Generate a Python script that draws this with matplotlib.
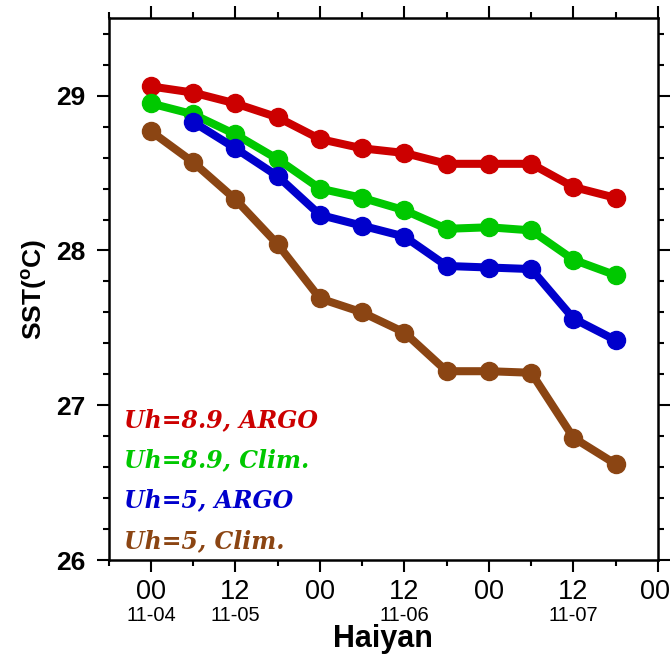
import matplotlib
matplotlib.use("Agg")
import matplotlib.pyplot as plt
import matplotlib.transforms as mtransforms
from matplotlib.ticker import MultipleLocator

# hours since 2013-11-04 00 UTC, every 6 h
hours = [0, 6, 12, 18, 24, 30, 36, 42, 48, 54, 60, 66]

sst_uh89_argo = [29.06, 29.02, 28.95, 28.86, 28.72, 28.66, 28.63, 28.56, 28.56, 28.56, 28.41, 28.34]
sst_uh89_clim = [28.95, 28.88, 28.75, 28.59, 28.40, 28.34, 28.26, 28.14, 28.15, 28.13, 27.94, 27.84]
sst_uh5_argo = [None, 28.83, 28.66, 28.48, 28.23, 28.16, 28.09, 27.90, 27.89, 27.88, 27.56, 27.42]
sst_uh5_clim = [28.77, 28.57, 28.33, 28.04, 27.69, 27.60, 27.47, 27.22, 27.22, 27.21, 26.79, 26.62]

labels = ["Uh=8.9, ARGO", "Uh=8.9, Clim.", "Uh=5, ARGO", "Uh=5, Clim."]
colors = ["#cc0000", "#00c800", "#0000cc", "#8b4513"]

xtick_pos = [0, 12, 24, 36, 48, 60, 72]
xtick_lab = ["00", "12", "00", "12", "00", "12", "00"]
date_pos = [0, 12, 36, 60]
date_lab = ["11-04", "11-05", "11-06", "11-07"]

plt.rcParams["font.family"] = ["Liberation Sans", "DejaVu Sans"]
plt.rcParams["mathtext.fontset"] = "custom"
plt.rcParams["mathtext.bf"] = "Liberation Sans:bold"

fig = plt.figure(figsize=(6.71, 6.55), dpi=100)
ax = fig.add_axes([0.162, 0.145, 0.8186, 0.827])

series = [sst_uh89_argo, sst_uh89_clim, sst_uh5_argo, sst_uh5_clim]
for ys, c in zip(series, colors):
    xs = [h for h, v in zip(hours, ys) if v is not None]
    vs = [v for v in ys if v is not None]
    ax.plot(xs, vs, color=c, lw=5.8, marker="o", ms=13, solid_capstyle="round")

ax.set_xlim(-6, 72)
ax.set_ylim(26, 29.5)

ax.set_xticks(xtick_pos)
ax.set_xticklabels(xtick_lab, fontsize=19.5)
ax.xaxis.set_minor_locator(MultipleLocator(6))
ax.set_yticks([26, 27, 28, 29])
ax.set_yticklabels(["26", "27", "28", "29"], fontsize=19, fontweight="bold")
ax.yaxis.set_minor_locator(MultipleLocator(0.2))

ax.tick_params(which="both", direction="out", width=1.5, top=True, right=True)
ax.tick_params(which="major", length=8.5)
ax.tick_params(which="minor", length=4)
ax.tick_params(axis="x", which="major", pad=5)
ax.tick_params(axis="y", which="major", pad=8)
for s in ax.spines.values():
    s.set_linewidth(1.8)

# nudge the last hour label so it stays on the canvas
last = ax.get_xticklabels()[-1]
last.set_transform(last.get_transform() +
                   mtransforms.ScaledTranslation(-3 / 100, 0, fig.dpi_scale_trans))

# date line under the hour labels
for p, d in zip(date_pos, date_lab):
    ax.text(p, -0.103, d, transform=ax.get_xaxis_transform(), ha="center",
            va="center", fontsize=14.5)

ax.set_xlabel("Haiyan", fontsize=22, fontweight="bold")
ax.xaxis.set_label_coords(0.5, -0.119)
ax.set_ylabel(r"SST($^\mathbf{o}$C)", fontsize=19, fontweight="bold")
ax.yaxis.set_label_coords(-0.108, 0.5)

legend_y = [420, 460, 500, 541]
for lab, c, yp in zip(labels, colors, legend_y):
    ax.text(0.028, (560 - yp) / 541.7, lab, transform=ax.transAxes, color=c,
            fontsize=17, fontweight="bold", fontstyle="italic",
            family="DejaVu Serif", ha="left", va="center")

fig.savefig("out.png", dpi=100)
